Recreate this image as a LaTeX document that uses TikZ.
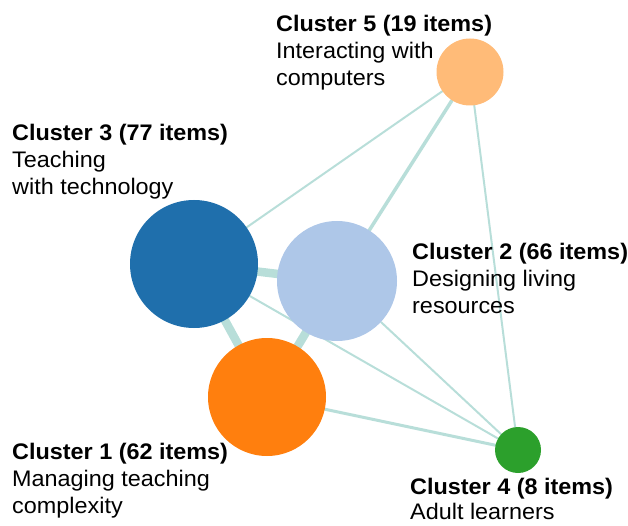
\documentclass[tikz,border=0pt]{standalone}
\usepackage{fontspec}
\setmainfont{Liberation Sans}[FakeStretch=1.04]
\usetikzlibrary{backgrounds}

\definecolor{linkteal}{RGB}{184,222,217}
\definecolor{clustone}{RGB}{255,127,14}
\definecolor{clusttwo}{RGB}{174,199,232}
\definecolor{clustthree}{RGB}{31,111,172}
\definecolor{clustfour}{RGB}{44,160,44}
\definecolor{clustfive}{RGB}{255,187,120}

\begin{document}
\begin{tikzpicture}[x=1pt, y=-1pt, cluster/.style={circle, draw=none, inner sep=0pt}, lbl/.style={anchor=north west, inner sep=0pt, align=left, font=\fontsize{22.5}{27}\selectfont}, link/.style={draw=linkteal, line cap=round}]
        % Fix the picture size to the reference
        \useasboundingbox (0,0) rectangle (628,526);

        % Draw the clusters
        \node[cluster, fill=clustthree, minimum size=128pt] (c3) at (194,264) {};
        \node[cluster, fill=clusttwo, minimum size=120pt] (c2) at (337,281) {};
        \node[cluster, fill=clustone, minimum size=118pt] (c1) at (267,397) {};
        \node[cluster, fill=clustfour, minimum size=46pt] (c4) at (518,450) {};
        \node[cluster, fill=clustfive, minimum size=67pt] (c5) at (470,72) {};

        % Draw the links between the clusters behind them
        \begin{scope}[on background layer]
          \draw[link, line width=8.5pt] (c3) -- (c2);
          \draw[link, line width=8.5pt] (c3) -- (c1);
          \draw[link, line width=8.5pt] (c2) -- (c1);
          \draw[link, line width=2pt] (c3) -- (c5);
          \draw[link, line width=3.5pt] (c2) -- (c5);
          \draw[link, line width=2pt] (c5) -- (c4);
          \draw[link, line width=2pt] (c3) -- (c4);
          \draw[link, line width=2pt] (c2) -- (c4);
          \draw[link, line width=3pt] (c1) -- (c4);
        \end{scope}

        % Cluster labels
        \node[lbl] (t5) at (276,15) {\textbf{Cluster 5 (19 items)}\\Interacting with\\computers};
        \node[lbl] (t3) at (12,124) {\textbf{Cluster 3 (77 items)}\\Teaching\\with technology};
        \node[lbl] (t2) at (412,243) {\textbf{Cluster 2 (66 items)}\\Designing living\\resources};
        \node[lbl] (t1) at (12,443) {\textbf{Cluster 1 (62 items)}\\Managing teaching\\complexity};
        \node[lbl, font=\fontsize{22.5}{24.5}\selectfont] (t4) at (410,478) {\textbf{Cluster 4 (8 items)}\\Adult learners};
      \end{tikzpicture}
\end{document}
